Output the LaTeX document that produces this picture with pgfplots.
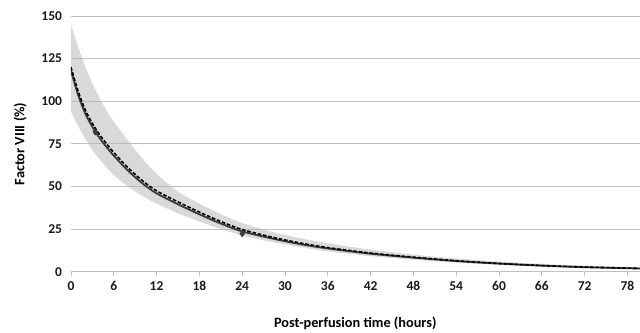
\documentclass[border=0pt]{standalone}
\usepackage{pgfplots}
\pgfplotsset{compat=1.18}
\usepgfplotslibrary{fillbetween}
\usepackage{fontspec}
\setmainfont{Carlito}
\definecolor{gridc}{HTML}{C0C0C0}
\definecolor{bandc}{HTML}{B4B4B4}
\definecolor{solidc}{HTML}{3A3A3A}
\begin{document}
\begin{tikzpicture}
\begin{axis}[
  at={(0,0)}, anchor=south west,
  scale only axis, width=569bp, height=256bp,
  xmin=0, xmax=79.7, ymin=0, ymax=150,
  xtick={0,6,...,78}, ytick={0,25,...,150},
  ymajorgrids, grid style={gridc, line width=0.8bp},
  axis x line*=bottom, axis y line*=left,
  x axis line style={-, gridc, line width=0.9bp},
  y axis line style={draw=none},
  xtick style={gridc, line width=0.8bp},
  ytick style={draw=none},
  tick align=outside, major tick length=4bp,
  /pgf/number format/assume math mode=true,
  tick label style={font=\fontsize{13.5bp}{15bp}\selectfont\bfseries, text=black!90},
  xticklabel style={yshift=-2bp},
  yticklabel style={xshift=-1.5bp},
  xlabel={Post-perfusion time (hours)},
  ylabel={Factor VIII (\%)},
  label style={font=\fontsize{14.3bp}{16bp}\selectfont\bfseries},
  xlabel style={yshift=-19bp},
  ylabel style={yshift=8bp},
]
\addplot[name path=up, draw=none, smooth] coordinates {
(0,145) (1,132) (2,120.5) (3,110.5) (4,102) (5,94.5) (6,88) (8,77) (10,66.5) (12,57.5) (15,47) (18,40) (21,33.8) (24,28.6) (28,23.6) (32,19.8) (36,16.8) (42,13) (48,10.1) (54,7.8) (60,6) (66,4.6) (72,3.5) (80,2.4)};
\addplot[name path=lo, draw=none, smooth] coordinates {
(0,94) (1,85.5) (2,78) (3,71.5) (4,66) (5,61) (6,56.8) (8,50) (10,44.5) (12,40) (15,34.3) (18,29.5) (21,25.1) (24,21.3) (28,17.6) (32,14.6) (36,12) (42,9.2) (48,7.1) (54,5.4) (60,4.1) (66,3.1) (72,2.3) (80,1.6)};
\addplot[bandc, fill opacity=0.5, draw=none] fill between[of=up and lo];
\addplot[solidc, line width=1.8bp, smooth] coordinates {
(0,118) (1,103.8) (2,92.9) (3,85) (4,78.5) (5,73.1) (6,68.1) (8,59.3) (10,51.9) (12,46) (15,39.6) (18,33.7) (21,28.3) (24,23.7) (28,19.7) (32,16.3) (36,13.7) (42,10.6) (48,8.3) (54,6.3) (60,4.8) (66,3.6) (72,2.7) (80,1.9)};
\addplot[black, line width=1.6bp, dash pattern=on 3.6bp off 1.8bp, smooth] coordinates {
(0,120) (1,106) (2,95) (3,87) (4,80.5) (5,75) (6,70) (8,61) (10,53.5) (12,47.5) (15,41) (18,35) (21,29.5) (24,24.8) (28,20.5) (32,17) (36,14.2) (42,11) (48,8.6) (54,6.5) (60,4.9) (66,3.7) (72,2.8) (80,2.0)};
\addplot[only marks, mark=diamond*, mark size=3.2bp, solidc] coordinates {(3.4,82) (24,22.3)};
\end{axis}
\path (-71bp,-59bp) rectangle (569bp,272bp);
\end{tikzpicture}
\end{document}
